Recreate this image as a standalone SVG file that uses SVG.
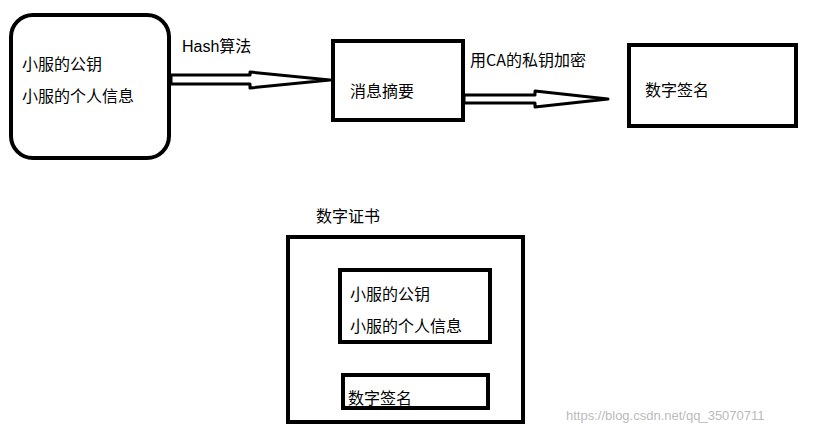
<svg xmlns="http://www.w3.org/2000/svg" width="817" height="435" viewBox="0 0 817 435">
<style>
.b{fill:none;stroke:#000;stroke-width:4}
.a{fill:#fff;stroke:#000;stroke-width:3;stroke-linejoin:round}
text{font-family:"Microsoft YaHei","Noto Sans CJK SC",sans-serif;font-size:16px;fill:#000}
.w{font-size:13px;fill:#bbb;font-family:"Liberation Sans",sans-serif}
</style>
<rect width="817" height="435" fill="#fff"/>
<g id="info"><rect class="b" x="11" y="15" width="158" height="143" rx="22"/><text x="22" y="70">小服的公钥</text><text x="22" y="102">小服的个人信息</text></g>
<g id="digest"><rect class="b" x="333" y="41" width="130" height="79"/><text x="350" y="97">消息摘要</text></g>
<g id="sig"><rect class="b" x="629" y="45" width="167" height="81"/><text x="645" y="96">数字签名</text></g>
<g id="cert"><rect class="b" x="288" y="237" width="235" height="185"/><text x="316" y="222">数字证书</text>
<rect class="b" x="340" y="270" width="150" height="72"/><text x="350" y="300">小服的公钥</text><text x="350" y="332">小服的个人信息</text>
<rect class="b" x="343" y="375" width="145" height="33"/><text x="348" y="404">数字签名</text></g>
<g id="connectors">
<path class="a" d="M171 75 H250 V72 L330 80 L250 88 V84 H171 Z"/>
<text x="182" y="52" style="font-family:'Liberation Sans',sans-serif">Hash<tspan style="font-family:'Noto Sans CJK SC',sans-serif">算法</tspan></text>
<path class="a" d="M464 95 H535 V91 L608 99 L535 107 V103 H464 Z"/>
<text x="470" y="66">用CA的私钥加密</text>
</g>
<text class="w" x="566" y="420">https://blog.csdn.net/qq_35070711</text>
</svg>
